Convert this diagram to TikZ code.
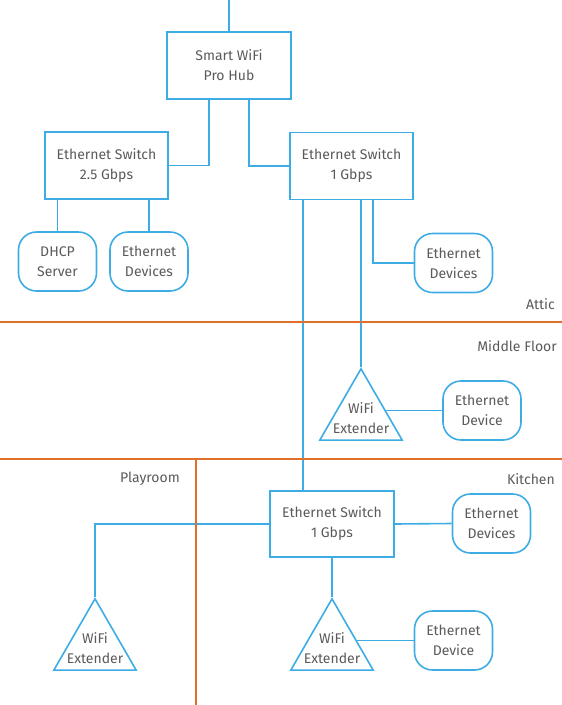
\documentclass[tikz,border=0pt]{standalone}
\usepackage{fontspec}
\setmainfont{Fira Sans}
\usetikzlibrary{shapes.geometric, calc}

\definecolor{netblue}{RGB}{62,172,228}
\definecolor{floororange}{RGB}{222,112,44}
\definecolor{textgray}{RGB}{90,90,90}

\tikzset{
    wire/.style={draw=netblue, line width=1.6pt},
    floorline/.style={draw=floororange, line width=1.6pt},
    switchbox/.style={wire, rectangle, minimum width=123pt, minimum height=67pt, inner sep=0pt, align=center, text=textgray},
    devicepill/.style={wire, rectangle, rounded corners=18pt, minimum width=78pt, minimum height=59pt, inner sep=0pt, align=center, text=textgray},
    extender/.style={wire, regular polygon, regular polygon sides=3, minimum size=95pt, inner sep=0pt,
        label={[text=textgray, align=center, yshift=-2pt]center:#1}},
    roomlabel/.style={anchor=east, text=textgray, inner sep=0pt}
}

\begin{document}
\begin{tikzpicture}[x=1pt, y=-1pt, every node/.style={font=\fontsize{14}{20}\selectfont}]
            \useasboundingbox (0,0) rectangle (562,705);

            \node[switchbox, minimum width=124pt] (hub) at (229,65.5) {Smart WiFi\\Pro Hub};
            \coordinate (uplink) at (229,0);

            \node[switchbox] (sw25) at (106.5,165.5) {Ethernet Switch\\2.5 Gbps};
            \node[switchbox] (sw1attic) at (351.5,166) {Ethernet Switch\\1 Gbps};

            \node[devicepill] (dhcp) at (57.5,261.5) {DHCP\\Server};
            \node[devicepill] (devattic) at (149,261.5) {Ethernet\\Devices};
            \node[devicepill] (devattic2) at (453.5,263) {Ethernet\\Devices};

            \node[extender={WiFi\\Extender}] (extmiddle) at (361,416.3) {};
            \node[devicepill] (devmiddle) at (482,410.5) {Ethernet\\Device};

            \node[switchbox, minimum width=124pt, minimum height=66pt] (sw1kitchen) at (332,524) {Ethernet Switch\\1 Gbps};
            \node[devicepill] (devkitchen) at (491.5,523.5) {Ethernet\\Devices};
            \node[extender={WiFi\\Extender}] (extplay) at (95,646.3) {};
            \node[extender={WiFi\\Extender}] (extkitchen) at (332,646.3) {};
            \node[devicepill] (devkitchen2) at (453.5,640.5) {Ethernet\\Device};

            \coordinate (riser) at ([xshift=-48.5pt]sw1attic.south);
            \coordinate (extmiddleside) at ($(extmiddle.corner 1)!0.59!(extmiddle.corner 3)$);
            \coordinate (extkitchenside) at ($(extkitchen.corner 1)!0.59!(extkitchen.corner 3)$);

            \draw[wire] (hub.north) -- (uplink);
            \draw[wire] ([xshift=-20pt]hub.south) |- (sw25.east);
            \draw[wire] ([xshift=20pt]hub.south) |- (sw1attic.west);
            \draw[wire] (dhcp.north) -- (dhcp.north |- sw25.south);
            \draw[wire] (devattic.north) -- (devattic.north |- sw25.south);
            \draw[wire] ([xshift=21.5pt]sw1attic.south) |- (devattic2.west);
            \draw[wire] (extmiddle.corner 1) -- (extmiddle.corner 1 |- sw1attic.south);
            \draw[wire] (riser) -- (riser |- sw1kitchen.north);
            \draw[wire] (devmiddle.west) -- (devmiddle.west -| extmiddleside);
            \draw[wire] (sw1kitchen.east) -- (devkitchen.west);
            \draw[wire] (sw1kitchen.west) -| (extplay.corner 1);
            \draw[wire] (sw1kitchen.south) -- (extkitchen.corner 1);
            \draw[wire] (devkitchen2.west) -- (devkitchen2.west -| extkitchenside);

            \draw[floorline] (0,322) -- (562,322);
            \draw[floorline] (0,459) -- (562,459);
            \draw[floorline] (196,459) -- (196,705);

            \node[roomlabel] (attic) at (555,304) {Attic};
            \node[roomlabel] (middle) at (557,346) {Middle Floor};
            \node[roomlabel] (kitchen) at (555,479) {Kitchen};
            \node[roomlabel] (playroom) at (180,479) {Playroom};
        \end{tikzpicture}
\end{document}
